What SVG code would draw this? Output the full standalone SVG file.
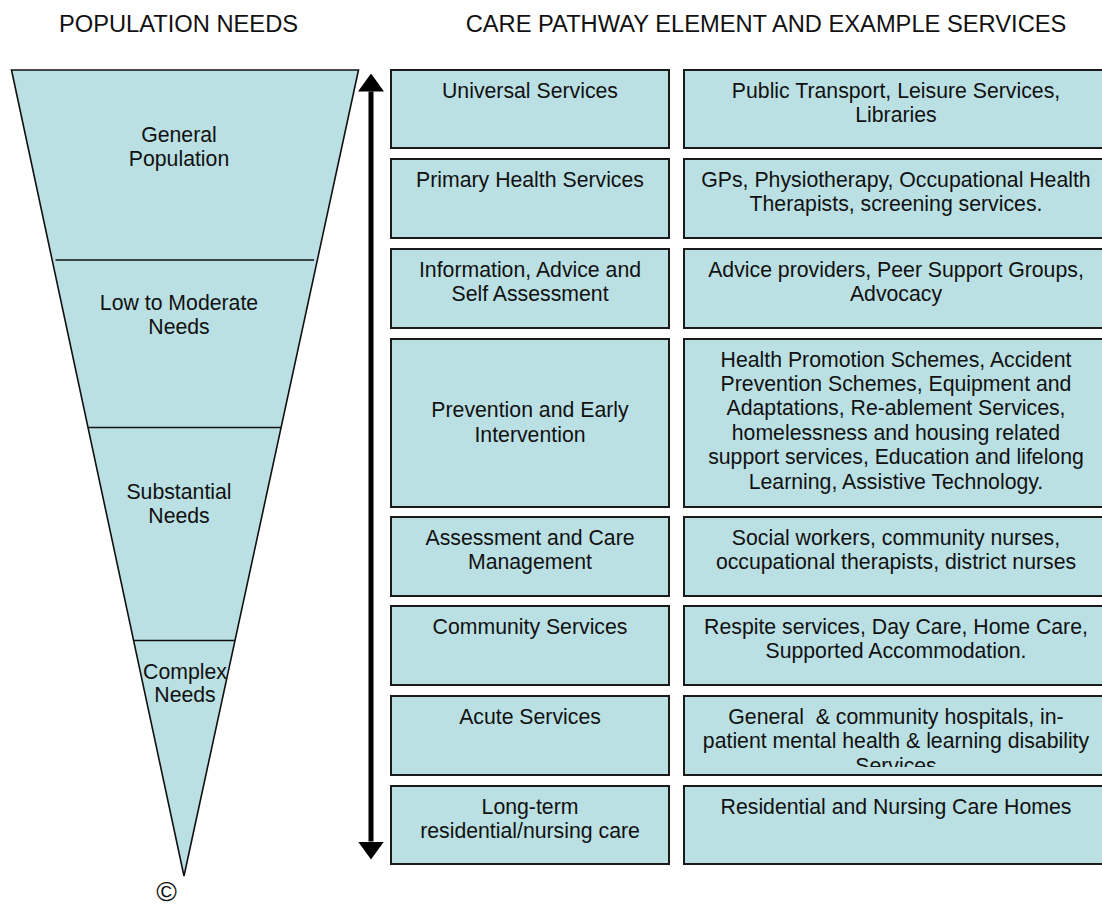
<svg xmlns="http://www.w3.org/2000/svg" width="1102" height="908" viewBox="0 0 1102 908">
<style>
  text { font-family: "Liberation Sans", Arial, sans-serif; fill: #111; }
  .hdr { font-size: 23.7px; text-anchor: middle; }
  .t { font-size: 21.25px; text-anchor: middle; }
  .box { fill: #BAE0E3; stroke: #1a1a1a; stroke-width: 2; }
  .tri { fill: #BAE0E3; stroke: #111; stroke-width: 1.6; stroke-linejoin: miter; }
  .div { stroke: #111; stroke-width: 1.6; }
</style>
<defs>
  <marker id="ah" viewBox="0 0 18 26" refX="0" refY="13" markerWidth="18" markerHeight="26" markerUnits="userSpaceOnUse" orient="auto-start-reverse">
    <path d="M0,0 L18,13 L0,26 z" fill="#000"/>
  </marker>
  <clipPath id="clipAcute"><rect x="684" y="696" width="424" height="71"/></clipPath>
</defs>
<rect width="1102" height="908" fill="#fff"/>

<g id="headers">
  <text class="hdr" x="178.5" y="32">POPULATION NEEDS</text>
  <text class="hdr" x="766" y="32">CARE PATHWAY ELEMENT AND EXAMPLE SERVICES</text>
</g>

<g id="population-triangle">
  <polygon class="tri" points="11.5,70 358.5,70 184,876"/>
  <line class="div" x1="55.5" y1="260" x2="314" y2="260"/>
  <line class="div" x1="88" y1="427.5" x2="281" y2="427.5"/>
  <line class="div" x1="134" y1="640.5" x2="235" y2="640.5"/>
  <g id="general-population">
    <text class="t" x="179" y="141.5">General</text>
    <text class="t" x="179" y="166">Population</text>
  </g>
  <g id="low-moderate-needs">
    <text class="t" x="179" y="310">Low to Moderate</text>
    <text class="t" x="179" y="334">Needs</text>
  </g>
  <g id="substantial-needs">
    <text class="t" x="179" y="499">Substantial</text>
    <text class="t" x="179" y="523">Needs</text>
  </g>
  <g id="complex-needs">
    <text class="t" x="185" y="679">Complex</text>
    <text class="t" x="185" y="702">Needs</text>
  </g>
  <text x="166.5" y="901" style="font-size:28px;text-anchor:middle">©</text>
</g>

<g id="connectors">
  <line x1="371" y1="91.5" x2="371" y2="841.5" stroke="#000" stroke-width="5" marker-start="url(#ah)" marker-end="url(#ah)"/>
</g>

<g id="universal-services">
  <rect class="box" x="391" y="70" width="278" height="78"/>
  <text class="t" x="530" y="97.5">Universal Services</text>
</g>
<g id="universal-examples">
  <rect class="box" x="684" y="70" width="424" height="78"/>
  <text class="t" x="896" y="97.5">Public Transport, Leisure Services,</text>
  <text class="t" x="896" y="122">Libraries</text>
</g>

<g id="primary-health">
  <rect class="box" x="391" y="159" width="278" height="79"/>
  <text class="t" x="530" y="186.5">Primary Health Services</text>
</g>
<g id="primary-examples">
  <rect class="box" x="684" y="159" width="424" height="79"/>
  <text class="t" x="896" y="186.5">GPs, Physiotherapy, Occupational Health</text>
  <text class="t" x="896" y="211">Therapists, screening services.</text>
</g>

<g id="information-advice">
  <rect class="box" x="391" y="249" width="278" height="79"/>
  <text class="t" x="530" y="276.5">Information, Advice and</text>
  <text class="t" x="530" y="301">Self Assessment</text>
</g>
<g id="information-examples">
  <rect class="box" x="684" y="249" width="424" height="79"/>
  <text class="t" x="896" y="276.5">Advice providers, Peer Support Groups,</text>
  <text class="t" x="896" y="301">Advocacy</text>
</g>

<g id="prevention">
  <rect class="box" x="391" y="339" width="278" height="168"/>
  <text class="t" x="530" y="417">Prevention and Early</text>
  <text class="t" x="530" y="441.5">Intervention</text>
</g>
<g id="prevention-examples">
  <rect class="box" x="684" y="339" width="424" height="168"/>
  <text class="t" x="896" y="366.5">Health Promotion Schemes, Accident</text>
  <text class="t" x="896" y="390.9">Prevention Schemes, Equipment and</text>
  <text class="t" x="896" y="415.3">Adaptations, Re-ablement Services,</text>
  <text class="t" x="896" y="439.7">homelessness and housing related</text>
  <text class="t" x="896" y="464.1">support services, Education and lifelong</text>
  <text class="t" x="896" y="488.5">Learning, Assistive Technology.</text>
</g>

<g id="assessment">
  <rect class="box" x="391" y="517" width="278" height="79"/>
  <text class="t" x="530" y="544.5">Assessment and Care</text>
  <text class="t" x="530" y="569">Management</text>
</g>
<g id="assessment-examples">
  <rect class="box" x="684" y="517" width="424" height="79"/>
  <text class="t" x="896" y="544.5">Social workers, community nurses,</text>
  <text class="t" x="896" y="569">occupational therapists, district nurses</text>
</g>

<g id="community-services">
  <rect class="box" x="391" y="606" width="278" height="79"/>
  <text class="t" x="530" y="633.5">Community Services</text>
</g>
<g id="community-examples">
  <rect class="box" x="684" y="606" width="424" height="79"/>
  <text class="t" x="896" y="633.5">Respite services, Day Care, Home Care,</text>
  <text class="t" x="896" y="658">Supported Accommodation.</text>
</g>

<g id="acute-services">
  <rect class="box" x="391" y="696" width="278" height="79"/>
  <text class="t" x="530" y="723.5">Acute Services</text>
</g>
<g id="acute-examples">
  <rect class="box" x="684" y="696" width="424" height="79"/>
  <g clip-path="url(#clipAcute)">
    <text class="t" x="896" y="723.5" style="white-space:pre">General  &amp; community hospitals, in-</text>
    <text class="t" x="896" y="748">patient mental health &amp; learning disability</text>
    <text class="t" x="896" y="772.5">Services</text>
  </g>
</g>

<g id="long-term-care">
  <rect class="box" x="391" y="786" width="278" height="78"/>
  <text class="t" x="530" y="813.5">Long-term</text>
  <text class="t" x="530" y="838">residential/nursing care</text>
</g>
<g id="long-term-examples">
  <rect class="box" x="684" y="786" width="424" height="78"/>
  <text class="t" x="896" y="813.5">Residential and Nursing Care Homes</text>
</g>
</svg>
